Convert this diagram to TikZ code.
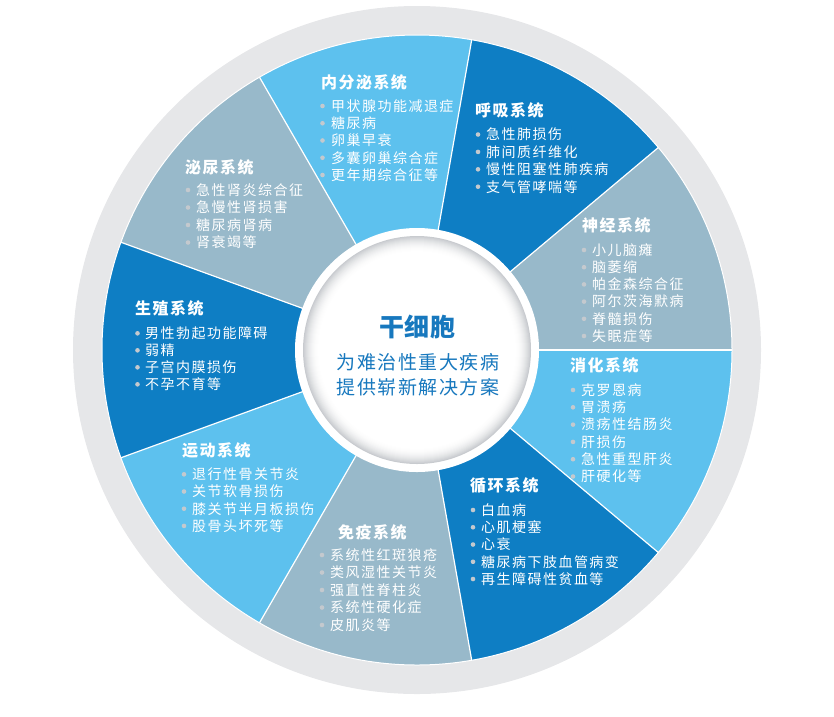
\documentclass[tikz,border=0pt]{standalone}
\usepackage{fontspec}
\newfontfamily\itemfont[LetterSpace=10.5]{Noto Sans CJK SC}
\newfontfamily\headfont[LetterSpace=9]{Noto Sans CJK SC}
\newfontfamily\titlefont[LetterSpace=2]{Noto Sans CJK SC}
\newfontfamily\subfont[LetterSpace=8]{Noto Sans CJK SC}
\definecolor{lblue}{RGB}{93,193,238}
\definecolor{dblue}{RGB}{14,126,196}
\definecolor{gblue}{RGB}{152,185,202}
\definecolor{ringgray}{RGB}{230,231,233}
\definecolor{shadowgray}{RGB}{200,203,207}
\definecolor{bulletc}{RGB}{196,201,206}
\definecolor{titleblue}{RGB}{23,120,190}
\tikzset{
  head/.style={anchor=west, inner sep=0pt, text=white, font=\headfont\bfseries\fontsize{16pt}{18pt}\selectfont},
  item/.style={anchor=west, inner sep=0pt, text=white, font=\itemfont\fontsize{14pt}{16pt}\selectfont},
  sep/.style={white, line width=1.2pt},
}
% #1 id, #2 heading, #3 head x, #4 head y, #5 bullet x, #6 text x, #7 first y, #8 line step, #9 items
\newcommand\sysblock[9]{%
  \node[head] (#1h) at (#3,-#4) {#2};
  \foreach \t [count=\k from 0] in {#9} {
    \pgfmathsetmacro\yy{-(#7+\k*#8)}
    \fill[bulletc] (#5,\yy) circle[radius=2.3pt];
    \node[item] (#1-\k) at (#6,\yy) {\t};
  }
}
\begin{document}
\begin{tikzpicture}[x=1pt,y=1pt]
\useasboundingbox (0,0) rectangle (834,-716);
\coordinate (C) at (417,-350);
% outer ring
\fill[ringgray] (C) circle[radius=344pt];
% sectors
\foreach \a/\c in {80/lblue, 40/dblue, 0/gblue, -40/lblue, -80/dblue, -120/gblue, -160/lblue, 160/dblue, 120/gblue}
  \fill[\c] (C) -- ++(\a:315pt) arc[start angle=\a, delta angle=40, radius=315pt] -- cycle;
\foreach \a in {0,40,...,320}
  \draw[sep] (C) -- ++(\a:315pt);
\draw[white, line width=1pt] (C) circle[radius=315pt];
% centre disc
\fill[white] (C) circle[radius=122pt];
\foreach \i [evaluate=\i as \p using {100*(1-\i/16)^2}, evaluate=\i as \r using {114-\i}] in {0,...,16}
  \fill[shadowgray!\p!white] (C) circle[radius=\r pt];
\fill[white] (C) circle[radius=97pt];
\node[inner sep=0pt, text=titleblue, font=\titlefont\bfseries\fontsize{25pt}{28pt}\selectfont] (title) at (417,-327) {干细胞};
\node[inner sep=0pt, text=titleblue, font=\subfont\fontsize{19pt}{22pt}\selectfont] (sub1) at (418,-362) {为难治性重大疾病};
\node[inner sep=0pt, text=titleblue, font=\subfont\fontsize{19pt}{22pt}\selectfont] (sub2) at (418,-387) {提供崭新解决方案};
% sector texts
\sysblock{nfm}{内分泌系统}{321}{82}{322.5}{331}{106}{17.25}{甲状腺功能减退症,糖尿病,卵巢早衰,多囊卵巢综合症,更年期综合征等}
\sysblock{hx}{呼吸系统}{475}{110}{478}{486}{134.5}{17.4}{急性肺损伤,肺间质纤维化,慢性阻塞性肺疾病,支气管哮喘等}
\sysblock{sj}{神经系统}{582}{225}{584}{592}{250}{17.2}{小儿脑瘫,脑萎缩,帕金森综合征,阿尔茨海默病,脊髓损伤,失眠症等}
\sysblock{xh}{消化系统}{570}{365}{573}{581}{390}{17.3}{克罗恩病,胃溃疡,溃疡性结肠炎,肝损伤,急性重型肝炎,肝硬化等}
\sysblock{xhuan}{循环系统}{470}{485}{473}{481}{510}{17.25}{白血病,心肌梗塞,心衰,糖尿病下肢血管病变,再生障碍性贫血等}
\sysblock{my}{免疫系统}{338}{532}{322}{330}{555}{17.5}{系统性红斑狼疮,类风湿性关节炎,强直性脊柱炎,系统性硬化症,皮肌炎等}
\sysblock{yd}{运动系统}{182}{450}{184}{192}{474.3}{17.2}{退行性骨关节炎,关节软骨损伤,膝关节半月板损伤,股骨头坏死等}
\sysblock{sz}{生殖系统}{135}{308}{137.5}{145}{333.3}{17}{男性勃起功能障碍,弱精,子宫内膜损伤,不孕不育等}
\sysblock{mn}{泌尿系统}{185}{167}{188}{196}{190}{17.5}{急性肾炎综合征,急慢性肾损害,糖尿病肾病,肾衰竭等}
\end{tikzpicture}
\end{document}
